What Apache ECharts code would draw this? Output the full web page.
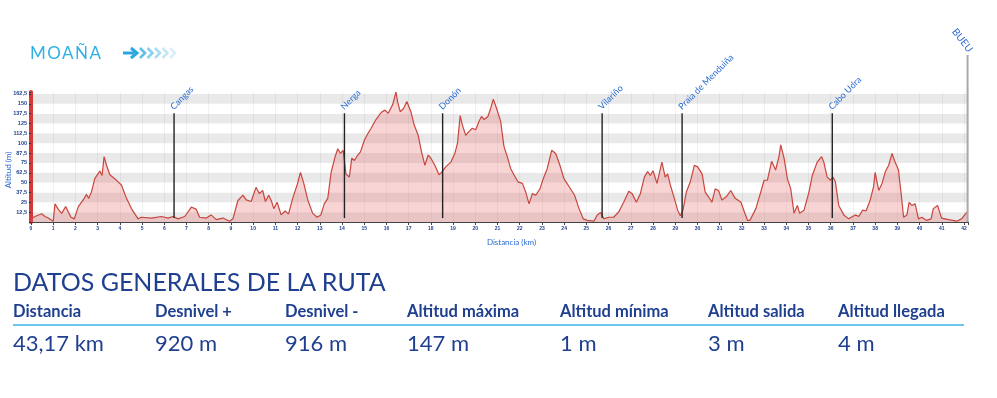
<!DOCTYPE html>
<html>
<head>
<meta charset="utf-8">
<script src="https://cdn.jsdelivr.net/npm/echarts@6/dist/echarts.min.js"></script>
<style>
  html, body { margin: 0; padding: 0; background: #fff; }
  #wrap { position: relative; width: 997px; height: 398px; overflow: hidden; font-family: Lato, "Noto Sans", sans-serif; }
  #chart { position: absolute; left: 0; top: 0; width: 997px; height: 398px; }
  .abs { position: absolute; white-space: nowrap; line-height: 1; }
  #stage { left: 30px; top: 44px; font-size: 17px; letter-spacing: 1.5px; color: #2fb0e6; }
  #heading { left: 13px; top: 269px; font-size: 25px; color: #1f3f8f; }
  .hdr { top: 303px; font-size: 16.5px; font-weight: 700; color: #1f3f8f; }
  .val { top: 332px; font-size: 22px; color: #1f3f8f; }
  #rule { position: absolute; left: 13px; top: 324px; width: 951px; height: 2px; background: #6cc5ee; }
</style>
</head>
<body>
<div id="wrap">
  <div id="chart"></div>
  <div id="stage" class="abs">MOAÑA</div>
  <div id="heading" class="abs">DATOS GENERALES DE LA RUTA</div>
  <div id="rule"></div>
  <div id="stats"></div>
</div>
<script>
// elevation profile: [km, m]
const profile = [
  [0, 4], [0.18, 7], [0.48, 10.5], [0.63, 7], [0.78, 5], [1.0, 1], [1.08, 23], [1.23, 16],
  [1.38, 11], [1.56, 19.5], [1.65, 18], [1.8, 6], [1.95, 4], [2.13, 19.5], [2.35, 28], [2.5, 35],
  [2.6, 30], [2.72, 38], [2.87, 55], [3.1, 64.6], [3.2, 59], [3.29, 83], [3.4, 72], [3.55, 60],
  [3.77, 55], [4.07, 47], [4.3, 30], [4.52, 17], [4.82, 4], [4.97, 6], [5.42, 5], [5.87, 7],
  [6.17, 5], [6.39, 7], [6.62, 4], [6.92, 7], [7.22, 19], [7.44, 16], [7.59, 6], [7.89, 5],
  [8.11, 9], [8.34, 3], [8.64, 5], [8.94, 1], [9.09, 4], [9.31, 27], [9.54, 34], [9.69, 28],
  [9.91, 26], [10.13, 44], [10.28, 36], [10.43, 40], [10.55, 26], [10.7, 34], [10.82, 27], [10.93, 17],
  [11.08, 25], [11.26, 9], [11.44, 14], [11.59, 10], [11.78, 30], [12.0, 49], [12.13, 63], [12.28, 49],
  [12.46, 28], [12.68, 11], [12.88, 6], [13.05, 9], [13.2, 23], [13.36, 30], [13.51, 63], [13.69, 83],
  [13.81, 93], [13.93, 87], [14.05, 91], [14.18, 61], [14.33, 57], [14.44, 81], [14.56, 78], [14.71, 85],
  [14.83, 89], [15.01, 104], [15.16, 112], [15.31, 119], [15.53, 130], [15.76, 139], [15.93, 142], [16.08, 138],
  [16.28, 149], [16.43, 165], [16.5, 153], [16.62, 140], [16.77, 144], [16.92, 153], [17.1, 140], [17.25, 123],
  [17.43, 110], [17.58, 89], [17.73, 72], [17.88, 85], [18.0, 81], [18.18, 72], [18.37, 60], [18.48, 63],
  [18.67, 70], [18.9, 76], [19.08, 87], [19.2, 100], [19.32, 135], [19.42, 123], [19.57, 110], [19.72, 115],
  [19.87, 119], [20.02, 117], [20.17, 128], [20.28, 134], [20.4, 130], [20.57, 134], [20.69, 144], [20.81, 156],
  [20.96, 144], [21.14, 128], [21.29, 96], [21.44, 83], [21.59, 68], [21.74, 60], [21.92, 51], [22.12, 49],
  [22.27, 38], [22.42, 23], [22.57, 36], [22.72, 34], [22.91, 42], [23.06, 55], [23.24, 68], [23.44, 91],
  [23.62, 87], [23.81, 72], [23.99, 55], [24.22, 45], [24.47, 34], [24.67, 17], [24.86, 4], [25.04, 2],
  [25.34, 1], [25.49, 9], [25.64, 12], [25.79, 4], [26.0, 6], [26.23, 6], [26.46, 13], [26.68, 25],
  [26.91, 39], [27.06, 36], [27.25, 25], [27.43, 36], [27.61, 57], [27.76, 64], [27.88, 59], [28.0, 65],
  [28.18, 49], [28.4, 76], [28.55, 57], [28.66, 61], [28.78, 47], [28.96, 30], [29.11, 15], [29.23, 8],
  [29.35, 15], [29.5, 38], [29.68, 51], [29.86, 72], [30.01, 70], [30.21, 61], [30.35, 38], [30.5, 32],
  [30.65, 25], [30.8, 42], [30.95, 40], [31.1, 28], [31.3, 32], [31.5, 40], [31.7, 30], [31.96, 25],
  [32.11, 13], [32.26, 2], [32.36, 2], [32.63, 17], [32.85, 38], [33.0, 53], [33.15, 53], [33.34, 77],
  [33.52, 66], [33.67, 83], [33.75, 98], [33.9, 81], [34.05, 55], [34.2, 42], [34.35, 11], [34.5, 21],
  [34.6, 11], [34.8, 15], [35.02, 38], [35.17, 59], [35.39, 76], [35.59, 83], [35.69, 76], [35.84, 57],
  [35.99, 53], [36.1, 57], [36.21, 51], [36.36, 21], [36.59, 9], [36.81, 4], [37.11, 9], [37.26, 7],
  [37.44, 15], [37.59, 14], [37.78, 28], [37.93, 45], [38.0, 63], [38.16, 40], [38.31, 49], [38.46, 64],
  [38.61, 72], [38.76, 87], [38.87, 78], [39.05, 66], [39.17, 36], [39.28, 6], [39.43, 9], [39.53, 25],
  [39.65, 21], [39.8, 23], [39.95, 4], [40.1, 6], [40.32, 2], [40.52, 4], [40.62, 17], [40.81, 21],
  [40.99, 5], [41.3, 3], [41.67, 1], [41.89, 4], [42.14, 13]
];

// waypoints along the route
const placeNames = ["Cangas", "Nerga", "Donón", "Vilariño", "Praia de Menduiña", "Cabo Udra", "BUEU"];
const placeKm = [6.44, 14.11, 18.53, 25.71, 29.31, 36.07, 42.16];

// summary table
const statLabels = ["Distancia", "Desnivel +", "Desnivel -", "Altitud máxima", "Altitud mínima", "Altitud salida", "Altitud llegada"];
const statValues = ["43,17 km", "920 m", "916 m", "147 m", "1 m", "3 m", "4 m"];
const statLeft = [13, 155, 285, 407, 560, 708, 838];

const NAVY = "#1f3f8f";
const LINK_BLUE = "#2a6cd4";

// build summary columns
const statsBox = document.getElementById("stats");
statLabels.forEach((label, i) => {
  const h = document.createElement("div");
  h.className = "abs hdr";
  h.style.left = statLeft[i] + "px";
  h.textContent = label;
  statsBox.appendChild(h);
  const v = document.createElement("div");
  v.className = "abs val";
  v.style.left = statLeft[i] + "px";
  v.textContent = statValues[i];
  statsBox.appendChild(v);
});

// arrow + fading chevrons next to the stage name
function chevrons() {
  const out = [
    { type: "rect", shape: { x: 123, y: 51.5, width: 11, height: 3 }, style: { fill: "#29a8e0" } },
    { type: "polyline", shape: { points: [[131, 48], [137, 53], [131, 58]] }, style: { stroke: "#29a8e0", lineWidth: 3, fill: null } }
  ];
  const alphas = [0.75, 0.55, 0.4, 0.28, 0.18];
  alphas.forEach((a, i) => {
    const x0 = 140 + i * 7.5;
    out.push({
      type: "polyline",
      shape: { points: [[x0, 48], [x0 + 5, 53], [x0, 58]] },
      style: { stroke: "#29a8e0", lineWidth: 2.5, fill: null, opacity: a }
    });
  });
  return out;
}

const chart = echarts.init(document.getElementById("chart"), null, { renderer: "canvas" });

const option = {
  animation: false,
  grid: { left: 31, right: 29, top: 92, bottom: 176, containLabel: false, outerBoundsMode: "none" },
  graphic: chevrons(),
  xAxis: {
    type: "value",
    min: 0,
    max: 42.18,
    interval: 1,
    name: "Distancia (km)",
    nameLocation: "middle",
    nameGap: 16,
    nameMoveOverlap: false,
    nameTextStyle: { color: LINK_BLUE, fontSize: 8, fontFamily: "Lato", padding: [0, 0, 0, 24] },
    axisLine: { lineStyle: { color: "#444", width: 1 } },
    axisTick: { length: 3, lineStyle: { color: "#444" } },
    axisLabel: {
      fontSize: 5,
      fontWeight: "bold",
      color: NAVY,
      margin: 4,
      formatter: (v) => (Number.isInteger(v) ? String(v) : "")
    },
    splitLine: { show: true, lineStyle: { color: "rgba(0,0,0,0.05)", width: 1 } }
  },
  yAxis: {
    type: "value",
    min: 0,
    max: 165,
    interval: 12.5,
    name: "Altitud (m)",
    nameLocation: "middle",
    nameGap: 23,
    nameRotate: 90,
    nameMoveOverlap: false,
    nameTextStyle: { color: LINK_BLUE, fontSize: 8, fontFamily: "Lato", verticalAlign: "middle", padding: [0, 26, 0, 0] },
    axisLine: { show: true, lineStyle: { color: "#d8373a", width: 4 } },
    axisTick: { show: true, length: 2, lineStyle: { color: "#333" } },
    axisLabel: {
      fontSize: 5.5,
      fontWeight: "bold",
      color: NAVY,
      margin: 4,
      formatter: (v) => (v === 0 || v === 165 ? "" : String(v).replace(".", ","))
    },
    splitLine: { show: false },
    splitArea: { show: true, areaStyle: { color: ["#e9e9e9", "#ffffff"] } }
  },
  series: [
    {
      name: "perfil",
      type: "line",
      data: profile,
      showSymbol: false,
      smooth: false,
      z: 2,
      lineStyle: { color: "#c8463d", width: 1.2 },
      areaStyle: { color: "rgba(232,110,110,0.42)" }
    },
    {
      name: "lugares",
      type: "custom",
      z: 5,
      clip: false,
      data: placeKm.map((km, i) => [km, i]),
      renderItem: (params, api) => {
        const km = api.value(0);
        const idx = api.value(1);
        const isEnd = idx === placeKm.length - 1;
        const bottom = api.coord([km, isEnd ? 0 : 5]);
        const top = api.coord([km, isEnd ? 212 : 138]);
        const label = isEnd
          ? {
              type: "text",
              x: top[0] + 3,
              y: top[1] - 4,
              rotation: -52 * Math.PI / 180,
              style: { text: placeNames[idx], fill: LINK_BLUE, fontSize: 10, fontFamily: "Lato", align: "right", verticalAlign: "middle" }
            }
          : {
              type: "text",
              x: top[0] + 1,
              y: top[1] - 2,
              rotation: Math.PI / 4,
              style: { text: placeNames[idx], fill: LINK_BLUE, fontSize: 9, fontFamily: "Lato", align: "left", verticalAlign: "bottom" }
            };
        return {
          type: "group",
          children: [
            {
              type: "line",
              shape: { x1: bottom[0], y1: bottom[1], x2: top[0], y2: top[1] },
              style: { stroke: isEnd ? "#a9a9a9" : "#222", lineWidth: isEnd ? 2 : 1.4 }
            },
            label
          ]
        };
      }
    }
  ]
};

chart.setOption(option);
</script>
</body>
</html>
